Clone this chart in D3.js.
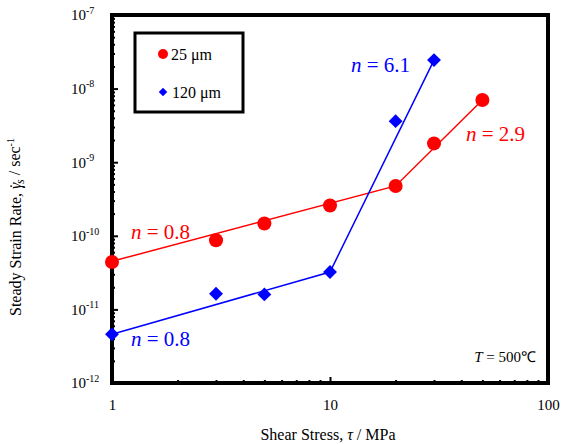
<!DOCTYPE html>
<html>
<head>
<meta charset="utf-8">
<script src="https://cdn.jsdelivr.net/npm/d3@7"></script>
<style>
  body { margin: 0; background: #fff; }
  text { font-family: "Liberation Serif", "Times New Roman", serif; }
</style>
</head>
<body>
<svg id="chart" width="566" height="444"></svg>
<script>
// Measured points (shear stress in MPa, strain rate in 1/s)
const stress25 = [1, 3, 5, 10, 20, 30, 50];
const rate25 = [4.4e-11, 8.7e-11, 1.47e-10, 2.58e-10, 4.76e-10, 1.8e-9, 7.0e-9];
const stress120 = [1, 3, 5, 10, 20, 30];
const rate120 = [4.6e-12, 1.63e-11, 1.6e-11, 3.22e-11, 3.61e-9, 2.44e-8];

// Fitted power-law segments
const fitStress25 = [1, 20, 50];
const fitRate25 = [4.5e-11, 4.76e-10, 7.0e-9];
const fitStress120 = [1, 10, 30];
const fitRate120 = [4.6e-12, 3.22e-11, 2.44e-8];

const xTicks = [1, 10, 100];
const yExponents = [-12, -11, -10, -9, -8, -7];

const serif = "Liberation Serif, Times New Roman, serif";
const svg = d3.select("#chart").attr("font-family", serif);
const margin = { left: 112, right: 18, top: 15, bottom: 61 };
const width = 566 - margin.left - margin.right;
const height = 444 - margin.top - margin.bottom;

const x = d3.scaleLog().domain([1, 100]).range([0, width]);
const y = d3.scaleLog().domain([1e-12, 1e-7]).range([height, 0]);

const g = svg.append("g").attr("transform", `translate(${margin.left},${margin.top})`);

// minor ticks
const minorX = [];
for (let d = 1; d < 100; d *= 10) for (let k = 2; k <= 9; k++) minorX.push(d * k);
const minorY = [];
for (let e = -12; e < -7; e++) for (let k = 2; k <= 9; k++) minorY.push(k * Math.pow(10, e));

g.append("g").attr("transform", `translate(0,${height})`)
  .call(d3.axisBottom(x).tickValues(minorX).tickSize(-3).tickFormat(""))
  .call(a => a.select(".domain").remove())
  .selectAll("line").attr("stroke", "#000").attr("stroke-width", 2);

g.append("g")
  .call(d3.axisLeft(y).tickValues(minorY).tickSize(-3).tickFormat(""))
  .call(a => a.select(".domain").remove())
  .selectAll("line").attr("stroke", "#000").attr("stroke-width", 2);

// major ticks with labels
const xAxis = g.append("g").attr("transform", `translate(0,${height})`)
  .call(d3.axisBottom(x).tickValues(xTicks).tickSize(-6).tickPadding(16).tickFormat(d3.format("d")))
  .attr("font-family", serif);
xAxis.select(".domain").remove();
xAxis.selectAll("line").attr("stroke", "#000").attr("stroke-width", 2);
xAxis.selectAll("text").attr("font-size", 15).attr("fill", "#000");

const yAxis = g.append("g")
  .call(d3.axisLeft(y).tickValues(yExponents.map(e => Math.pow(10, e))).tickSize(-6).tickPadding(10).tickFormat(""))
  .attr("font-family", serif);
yAxis.select(".domain").remove();
yAxis.selectAll("line").attr("stroke", "#000").attr("stroke-width", 2);
yAxis.selectAll(".tick").each(function(d) {
  const t = d3.select(this).select("text")
    .attr("font-size", 15).attr("fill", "#000")
    .attr("x", -41).attr("dy", "0.32em").attr("text-anchor", "start");
  t.append("tspan").text("10");
  t.append("tspan").attr("font-size", 10).attr("dy", "-0.65em")
    .text(Math.round(Math.log10(d)));
});

// frame
g.append("rect").attr("width", width).attr("height", height)
  .attr("fill", "none").attr("stroke", "#000").attr("stroke-width", 4);

// fit lines
const line = d3.line().x(d => x(d[0])).y(d => y(d[1]));
g.append("path").datum(d3.zip(fitStress25, fitRate25))
  .attr("d", line).attr("fill", "none").attr("stroke", "#ff0000").attr("stroke-width", 1.5);
g.append("path").datum(d3.zip(fitStress120, fitRate120))
  .attr("d", line).attr("fill", "none").attr("stroke", "#0000ff").attr("stroke-width", 1.5);

// markers
g.selectAll(".pt25").data(d3.zip(stress25, rate25)).enter().append("circle")
  .attr("class", "pt25")
  .attr("cx", d => x(d[0])).attr("cy", d => y(d[1])).attr("r", 7)
  .attr("fill", "#ff0000");

g.selectAll(".pt120").data(d3.zip(stress120, rate120)).enter().append("path")
  .attr("class", "pt120")
  .attr("transform", d => `translate(${x(d[0])},${y(d[1])}) rotate(45)`)
  .attr("d", d3.symbol().type(d3.symbolSquare).size(96))
  .attr("fill", "#0000ff");

// slope annotations
function slopeLabel(px, py, value, color) {
  const t = svg.append("text").attr("x", px).attr("y", py)
    .attr("font-size", 21).attr("fill", color);
  t.append("tspan").attr("font-style", "italic").text("n");
  t.append("tspan").text(" = " + value);
}
slopeLabel(131, 239, "0.8", "#ff0000");
slopeLabel(131, 346, "0.8", "#0000ff");
slopeLabel(351, 72, "6.1", "#0000ff");
slopeLabel(466, 141, "2.9", "#ff0000");

// temperature note
const tNote = svg.append("text").attr("x", 536).attr("y", 362)
  .attr("text-anchor", "end").attr("font-size", 15).attr("fill", "#000");
tNote.append("tspan").attr("font-style", "italic").text("T");
tNote.append("tspan").text(" = 500℃");

// legend
const legend = svg.append("g");
legend.append("rect").attr("x", 135).attr("y", 33).attr("width", 108).attr("height", 79)
  .attr("fill", "#fff").attr("stroke", "#000").attr("stroke-width", 3);
legend.append("circle").attr("cx", 163).attr("cy", 54).attr("r", 5).attr("fill", "#ff0000");
legend.append("path").attr("transform", "translate(163,92) rotate(45)")
  .attr("d", d3.symbol().type(d3.symbolSquare).size(36)).attr("fill", "#0000ff");
legend.append("text").attr("x", 171).attr("y", 60).attr("font-size", 16).text("25 μm");
legend.append("text").attr("x", 172).attr("y", 98).attr("font-size", 16).text("120 μm");

// axis titles
const xTitle = svg.append("text").attr("x", 328).attr("y", 440)
  .attr("text-anchor", "middle").attr("font-size", 16);
xTitle.append("tspan").text("Shear Stress, ");
xTitle.append("tspan").attr("font-style", "italic").text("τ");
xTitle.append("tspan").text(" / MPa");

const yTitle = svg.append("text").attr("transform", "translate(21,227) rotate(-90)")
  .attr("text-anchor", "middle").attr("font-size", 16);
yTitle.append("tspan").text("Steady Strain Rate, ");
yTitle.append("tspan").attr("font-style", "italic").text("γ");
yTitle.append("tspan").attr("dx", "-0.38em").text("\u02D9");
yTitle.append("tspan").attr("font-style", "italic").attr("font-size", 12).attr("dx", "-0.05em").attr("dy", "0.25em").text("s");
yTitle.append("tspan").attr("dy", "-0.25em").text(" / sec");
yTitle.append("tspan").attr("font-size", 10).attr("dy", "-0.6em").text("-1");
</script>
</body>
</html>
